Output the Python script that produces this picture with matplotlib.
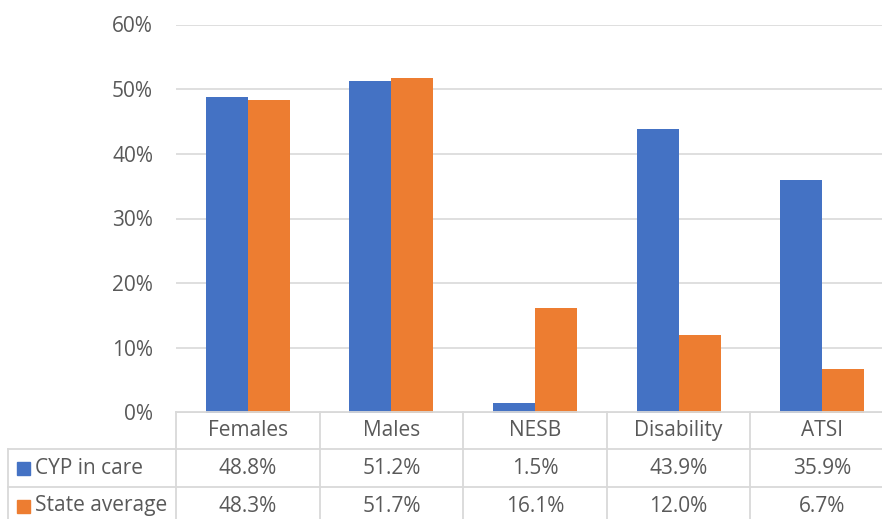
import matplotlib
matplotlib.use("Agg")
import matplotlib.pyplot as plt
from matplotlib.lines import Line2D
from matplotlib.patches import Rectangle
import numpy as np

categories = ["Females", "Males", "NESB", "Disability", "ATSI"]
series_names = ["CYP in care", "State average"]
cyp_in_care = [48.8, 51.2, 1.5, 43.9, 35.9]
state_average = [48.3, 51.7, 16.1, 12.0, 6.7]
y_ticks = [0, 10, 20, 30, 40, 50, 60]

BLUE = "#4472C4"
ORANGE = "#ED7D31"
TEXT = "#595959"
GRID = "#D9D9D9"
FS = 15

W, H = 882, 519
plt.rcParams["font.family"] = ["Open Sans", "DejaVu Sans"]

fig = plt.figure(figsize=(W / 100, H / 100), dpi=100)


def fx(px):
    return px / W


def fy(py):
    return 1 - py / H


# plot area in pixels: the last column runs past the right edge
left, right, top, bottom = 176, 894, 24.5, 412.5
ax = fig.add_axes([fx(left), fy(bottom), fx(right - left), fy(top) - fy(bottom)])

n = len(categories)
x = np.arange(n)
w = 0.293
ax.bar(x - w / 2, cyp_in_care, w, color=BLUE, zorder=3)
ax.bar(x + w / 2, state_average, w, color=ORANGE, zorder=3)

ax.set_xlim(-0.5, n - 0.5)
ax.set_ylim(0, 60)
ax.set_yticks(y_ticks, [f"{t}%" for t in y_ticks])
ax.set_xticks([])
ax.tick_params(axis="y", length=0, pad=16.5, labelsize=FS, labelcolor=TEXT)
ax.yaxis.grid(True, color=GRID, linewidth=1.2, zorder=0)
for s in ax.spines.values():
    s.set_visible(False)

# data table underneath the plot
col_w = (right - left) / n
rows_y = [412, 449, 487, 525]
lw = 1.3


def hline(x0, x1, y):
    fig.add_artist(Line2D([fx(x0), fx(x1)], [fy(y), fy(y)], color=GRID, lw=lw))


def vline(xp, y0, y1):
    fig.add_artist(Line2D([fx(xp), fx(xp)], [fy(y0), fy(y1)], color=GRID, lw=lw))


hline(left, W, rows_y[0])
hline(8, W, rows_y[1])
hline(8, W, rows_y[2])
vline(8, rows_y[1], H)
for i in range(n + 1):
    vline(left + i * col_w, rows_y[0], H)

for i, cat in enumerate(categories):
    cx = left + (i + 0.5) * col_w
    fig.text(fx(cx), fy((rows_y[0] + rows_y[1]) / 2), cat, ha="center", va="center",
             fontsize=FS, color=TEXT)
    for r, vals in enumerate([cyp_in_care, state_average]):
        cy = (rows_y[r + 1] + rows_y[r + 2]) / 2
        fig.text(fx(cx), fy(cy), f"{vals[i]:.1f}%", ha="center", va="center",
                 fontsize=FS, color=TEXT)

for r, (name, col) in enumerate(zip(series_names, [BLUE, ORANGE])):
    cy = (rows_y[r + 1] + rows_y[r + 2]) / 2
    fig.add_artist(Rectangle((fx(17), fy(cy + 6.5)), fx(13), fy(cy - 6.5) - fy(cy + 6.5),
                             color=col, transform=fig.transFigure))
    fig.text(fx(35), fy(cy), name, ha="left", va="center", fontsize=FS, color=TEXT)

fig.savefig("out.png", dpi=100)
